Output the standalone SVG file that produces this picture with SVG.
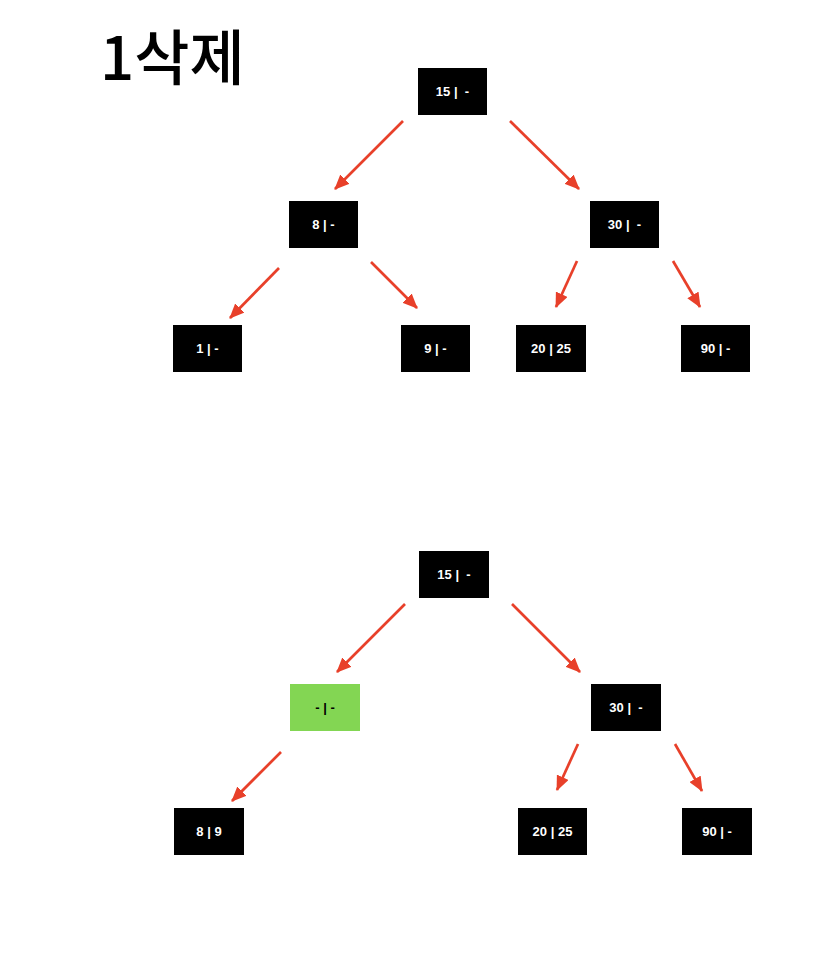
<svg xmlns="http://www.w3.org/2000/svg" width="834" height="972" viewBox="0 0 834 972">
<style>
.n{fill:#000}
.g{fill:#83d653}
.t{font-family:"Liberation Sans",Arial,sans-serif;font-size:13px;font-weight:bold;fill:#fff;text-anchor:middle;white-space:pre}
.tb{fill:#000}
.c line{stroke:#e8402a;stroke-width:2.7;marker-end:url(#ah)}
.title{font-family:"Noto Sans CJK KR","Liberation Sans",sans-serif;font-size:60px;font-weight:500;fill:#000}
</style>
<defs>
<marker id="ah" markerUnits="userSpaceOnUse" viewBox="0 0 15 13" markerWidth="15" markerHeight="13" refX="14" refY="6.5" orient="auto">
<path d="M0,0 L15,6.5 L0,13 Z" fill="#e8402a"/>
</marker>
</defs>
<rect width="834" height="972" fill="#fff"/>
<text class="title" x="100" y="80">1삭제</text>
<g class="c">
<line x1="403" y1="121" x2="335" y2="189"/>
<line x1="510" y1="121" x2="579" y2="189"/>
<line x1="279" y1="268" x2="230" y2="318"/>
<line x1="371" y1="262" x2="417" y2="308"/>
<line x1="577" y1="261" x2="556" y2="307"/>
<line x1="673" y1="261" x2="700" y2="307"/>
<line x1="405" y1="604" x2="337" y2="672"/>
<line x1="512" y1="604" x2="580" y2="672"/>
<line x1="281" y1="752" x2="232" y2="801"/>
<line x1="578" y1="744" x2="557" y2="790"/>
<line x1="675" y1="744" x2="702" y2="791"/>
</g>
<g id="a15"><rect class="n" x="418" y="68" width="69" height="47"/><text class="t" x="452.5" y="96">15 |  -</text></g>
<g id="a8"><rect class="n" x="289" y="201" width="69" height="47"/><text class="t" x="323.5" y="229">8 | -</text></g>
<g id="a30"><rect class="n" x="590" y="201" width="69" height="47"/><text class="t" x="624.5" y="229">30 |  -</text></g>
<g id="a1"><rect class="n" x="173" y="325" width="69" height="47"/><text class="t" x="207.5" y="353">1 | -</text></g>
<g id="a9"><rect class="n" x="401" y="325" width="69" height="47"/><text class="t" x="435.5" y="353">9 | -</text></g>
<g id="a20"><rect class="n" x="516" y="325" width="70" height="47"/><text class="t" x="551" y="353">20 | 25</text></g>
<g id="a90"><rect class="n" x="681" y="325" width="69" height="47"/><text class="t" x="715.5" y="353">90 | -</text></g>
<g id="b15"><rect class="n" x="419" y="551" width="70" height="47"/><text class="t" x="454" y="579">15 |  -</text></g>
<g id="bx"><rect class="g" x="290" y="684" width="70" height="47"/><text class="t tb" x="325" y="712">- | -</text></g>
<g id="b30"><rect class="n" x="591" y="684" width="70" height="47"/><text class="t" x="626" y="712">30 |  -</text></g>
<g id="b89"><rect class="n" x="174" y="808" width="70" height="47"/><text class="t" x="209" y="836">8 | 9</text></g>
<g id="b20"><rect class="n" x="518" y="808" width="69" height="47"/><text class="t" x="552.5" y="836">20 | 25</text></g>
<g id="b90"><rect class="n" x="682" y="808" width="70" height="47"/><text class="t" x="717" y="836">90 | -</text></g>
</svg>
